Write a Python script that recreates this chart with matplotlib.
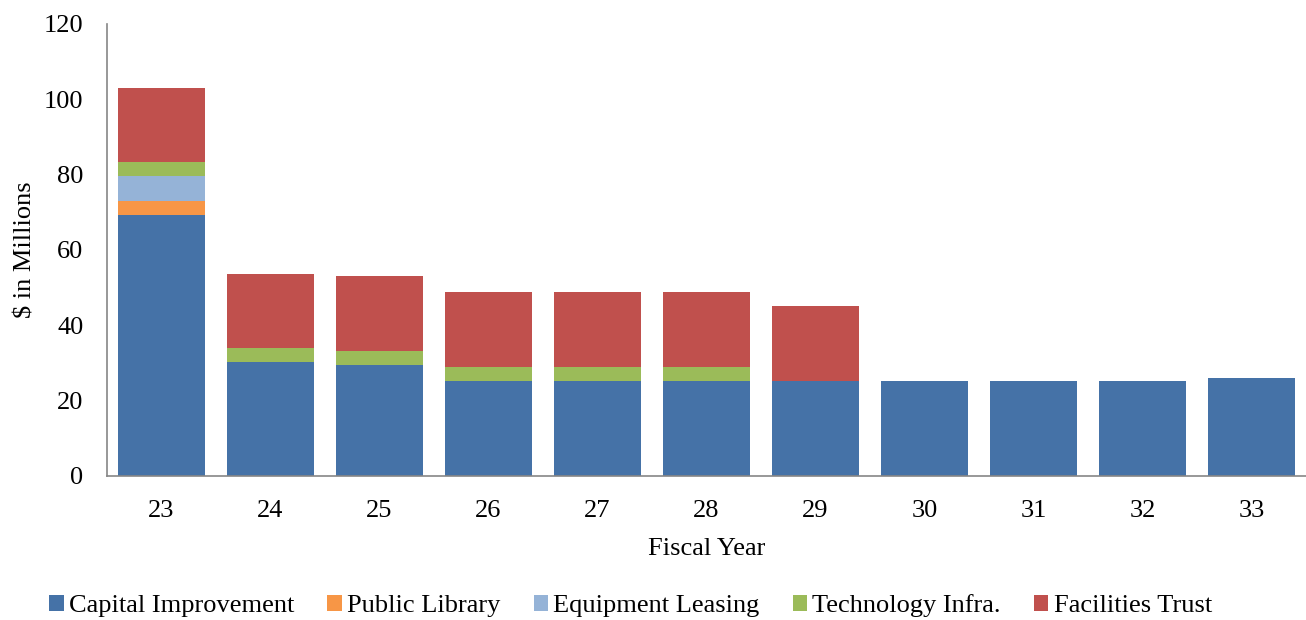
import matplotlib
matplotlib.use("Agg")
import matplotlib.pyplot as plt
import numpy as np

plt.rcParams['font.family'] = ['Liberation Serif', 'DejaVu Serif']

years = ['23', '24', '25', '26', '27', '28', '29', '30', '31', '32', '33']
capital = [69.2, 30.2, 29.5, 25.3, 25.3, 25.3, 25.3, 25.3, 25.3, 25.3, 25.9]
library = [3.7, 0, 0, 0, 0, 0, 0, 0, 0, 0, 0]
equipment = [6.7, 0, 0, 0, 0, 0, 0, 0, 0, 0, 0]
tech = [3.7, 3.8, 3.8, 3.7, 3.7, 3.7, 0, 0, 0, 0, 0]
facilities = [19.7, 19.7, 19.8, 19.9, 19.9, 19.9, 19.8, 0, 0, 0, 0]

series = [
    ('Capital Improvement', capital, '#4572A7'),
    ('Public Library', library, '#F79646'),
    ('Equipment Leasing', equipment, '#95B3D7'),
    ('Technology Infra.', tech, '#9BBB59'),
    ('Facilities Trust', facilities, '#C0504D'),
]

fig = plt.figure(figsize=(13.06, 6.2), dpi=100)
ax = fig.add_axes([107/1306, (620-476)/620, (1306-107)/1306, 452/620])

x = np.arange(len(years))
bottom = np.zeros(len(years))
for name, vals, col in series:
    v = np.array(vals, dtype=float)
    ax.bar(x, v, 0.8, bottom=bottom, color=col, label=name, edgecolor='none')
    bottom += v

ax.set_xlim(-0.5, len(years) - 0.5)
ax.set_ylim(0, 120)
ax.set_yticks(np.arange(0, 121, 20))
ax.set_xticks(x)
ax.set_xticklabels(years)
ax.tick_params(axis='both', length=0, labelsize=19)
ax.tick_params(axis='y', pad=17)
ax.tick_params(axis='x', pad=17)
for s in ['top', 'right']:
    ax.spines[s].set_visible(False)
for s in ['left', 'bottom']:
    ax.spines[s].set_color('#868686')
    ax.spines[s].set_linewidth(1.2)

ax.set_ylabel('$ in Millions', fontsize=19, labelpad=5)
ax.set_xlabel('Fiscal Year', fontsize=19, labelpad=12)

handles, labels = ax.get_legend_handles_labels()
fig.legend(handles, labels, loc='center', bbox_to_anchor=(0.4828, (620-606)/620), ncol=5,
           frameon=False, fontsize=19, handlelength=0.55, handleheight=0.55,
           handletextpad=0.2, columnspacing=1.25)

fig.savefig('out.png', dpi=100)
